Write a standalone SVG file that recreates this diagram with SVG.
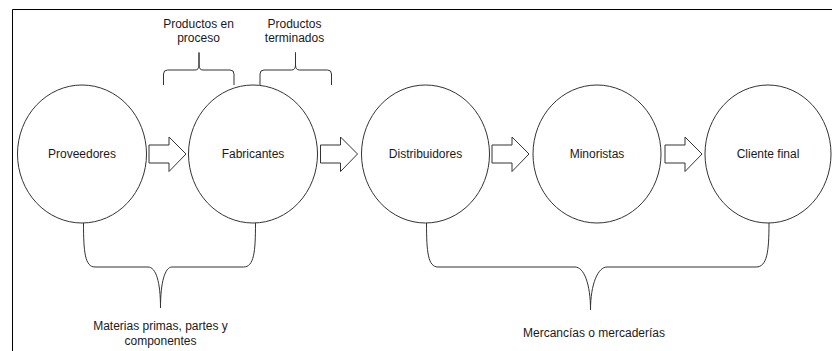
<svg xmlns="http://www.w3.org/2000/svg" width="832" height="351" viewBox="0 0 832 351">
  <style>
    .node { fill: #ffffff; stroke: #333333; stroke-width: 1; }
    .lbl { font-family: "Liberation Sans", Arial, Helvetica, sans-serif; font-size: 12px; fill: #1a1a1a; text-anchor: middle; }
    .brace { fill: none; stroke: #333333; stroke-width: 1; }
    .flow { fill: #ffffff; stroke: #333333; stroke-width: 1; stroke-linejoin: miter; }
    .frame { fill: none; stroke: #000000; stroke-width: 1; }
  </style>
  <defs>
    <!-- hollow block arrow, origin at the tail centre -->
    <path id="blockArrow" class="flow" d="M0,-9 H20 V-17 L37,0 L20,17.5 V9 H0 Z"/>
  </defs>

  <rect x="0" y="0" width="832" height="351" fill="#ffffff"/>
  <path class="frame" d="M12.5,351 V9.5 H832"/>

  <!-- supply chain stages -->
  <g id="proveedores">
    <ellipse class="node" cx="82" cy="154" rx="64.5" ry="69"/>
    <text class="lbl" x="82" y="158">Proveedores</text>
  </g>
  <g id="fabricantes">
    <ellipse class="node" cx="253" cy="154" rx="64.5" ry="69"/>
    <text class="lbl" x="253" y="158">Fabricantes</text>
  </g>
  <g id="distribuidores">
    <ellipse class="node" cx="425.5" cy="154" rx="64" ry="69"/>
    <text class="lbl" x="425.5" y="158">Distribuidores</text>
  </g>
  <g id="minoristas">
    <ellipse class="node" cx="597" cy="154" rx="64" ry="69"/>
    <text class="lbl" x="597" y="158">Minoristas</text>
  </g>
  <g id="cliente-final">
    <ellipse class="node" cx="768" cy="154" rx="63" ry="69"/>
    <text class="lbl" x="768" y="158">Cliente final</text>
  </g>

  <!-- flow arrows between stages -->
  <g id="connectors">
    <use href="#blockArrow" transform="translate(149,154)"/>
    <use href="#blockArrow" transform="translate(320.5,154)"/>
    <use href="#blockArrow" transform="translate(492,154)"/>
    <use href="#blockArrow" transform="translate(665,154)"/>
  </g>

  <!-- braces above the manufacturer -->
  <g id="productos-en-proceso">
    <path class="brace" d="M163.5,85 V74 Q163.5,70 167.5,70 H195 Q199,70 199,65 V52.5 V65 Q199,70 203,70 H230 Q234,70 234,74 V85"/>
    <text class="lbl" x="198.5" y="28">Productos en</text>
    <text class="lbl" x="198.5" y="42">proceso</text>
  </g>
  <g id="productos-terminados">
    <path class="brace" d="M260,85 V74 Q260,70 264,70 H291.5 Q295.5,70 295.5,65 V52.5 V65 Q295.5,70 299.5,70 H327.5 Q331.5,70 331.5,74 V85"/>
    <text class="lbl" x="294.5" y="28">Productos</text>
    <text class="lbl" x="294.5" y="42">terminados</text>
  </g>

  <!-- braces below the chain -->
  <g id="materias-primas">
    <path class="brace" d="M83.5,223 C83.5,252 85,267 95,267 H148 C156,267 160.5,282 160.5,308 C160.5,282 165,267 172,267 H243.5 C254,267 255.5,252 255.5,223"/>
    <text class="lbl" x="160.5" y="330">Materias primas, partes y</text>
    <text class="lbl" x="160.5" y="344.5">componentes</text>
  </g>
  <g id="mercancias">
    <path class="brace" d="M426.5,223 C426.5,252 428,267 438,267 H575 C584,267 590.5,284 590.5,310 C590.5,284 598,267 607,267 H756 C767,267 769,252 769,223"/>
    <text class="lbl" x="594" y="336.5">Mercancías o mercaderías</text>
  </g>
</svg>
